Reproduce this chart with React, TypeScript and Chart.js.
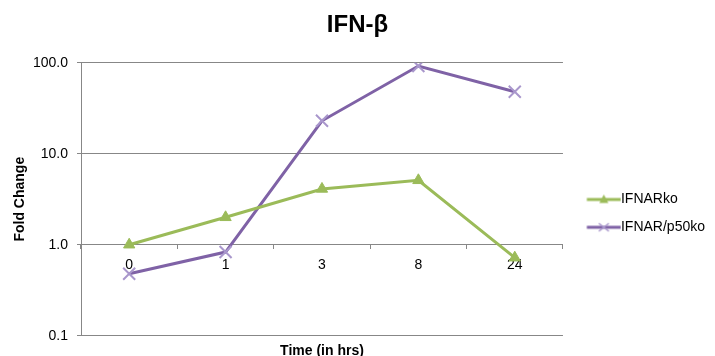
import React, { useEffect, useRef } from 'react';
import { Chart, registerables } from 'chart.js';

Chart.register(...registerables);

// ---- Data ----
const categories = ['0', '1', '3', '8', '24'];
const seriesNames = ['IFNARko', 'IFNAR/p50ko'];
const ifnarKo = [1.0, 2.0, 4.1, 5.1, 0.72];
const ifnarP50Ko = [0.48, 0.83, 23, 92, 48];
const yTickValues = [0.1, 1, 10, 100];
const yTickLabels = ['0.1', '1.0', '10.0', '100.0'];
const chartTitle = 'IFN-β';
const xAxisTitle = 'Time (in hrs)';
const yAxisTitle = 'Fold Change';

// ---- Styles ----
const GREEN = '#9BBB59';
const PURPLE = '#7F62A6';
const LAVENDER = '#A997CC';
const GRID = '#878787';
const FONT = "'Liberation Sans', Arial, Helvetica, sans-serif";

function legendImage(kind: 'triangle' | 'cross'): HTMLCanvasElement {
  const c = document.createElement('canvas');
  c.width = 52;
  c.height = 16;
  const ctx = c.getContext('2d')!;
  const cy = 8;
  const cx = 34.5;
  ctx.strokeStyle = kind === 'triangle' ? GREEN : PURPLE;
  ctx.lineWidth = 3;
  ctx.beginPath();
  ctx.moveTo(17.5, cy);
  ctx.lineTo(51.5, cy);
  ctx.stroke();
  if (kind === 'triangle') {
    ctx.fillStyle = GREEN;
    ctx.beginPath();
    ctx.moveTo(cx, cy - 5);
    ctx.lineTo(cx + 4.5, cy + 3.5);
    ctx.lineTo(cx - 4.5, cy + 3.5);
    ctx.closePath();
    ctx.fill();
  } else {
    ctx.strokeStyle = LAVENDER;
    ctx.lineWidth = 1.5;
    ctx.beginPath();
    ctx.moveTo(cx - 5, cy - 4);
    ctx.lineTo(cx + 5, cy + 4);
    ctx.moveTo(cx - 5, cy + 4);
    ctx.lineTo(cx + 5, cy - 4);
    ctx.stroke();
  }
  return c;
}

export default function App() {
  const canvasRef = useRef<HTMLCanvasElement | null>(null);

  useEffect(() => {
    document.body.style.margin = '0';
    const canvas = canvasRef.current;
    if (!canvas) return;
    const images = [legendImage('triangle'), legendImage('cross')];

    const chart = new Chart(canvas, {
      type: 'line',
      data: {
        labels: categories,
        datasets: [
          {
            label: seriesNames[0],
            data: ifnarKo,
            borderColor: GREEN,
            backgroundColor: GREEN,
            borderWidth: 3,
            tension: 0,
            pointStyle: 'triangle',
            pointRadius: 6.5,
            pointBackgroundColor: GREEN,
            pointBorderColor: GREEN,
            pointBorderWidth: 1,
          },
          {
            label: seriesNames[1],
            data: ifnarP50Ko,
            borderColor: PURPLE,
            backgroundColor: PURPLE,
            borderWidth: 3,
            tension: 0,
            pointStyle: 'crossRot',
            pointRadius: 8.5,
            pointBackgroundColor: LAVENDER,
            pointBorderColor: LAVENDER,
            pointBorderWidth: 2,
          },
        ],
      },
      options: {
        animation: false,
        responsive: false,
        devicePixelRatio: 1,
        layout: { padding: 0 },
        plugins: {
          title: {
            display: true,
            text: chartTitle,
            color: '#000',
            font: { family: FONT, size: 24, weight: 'bold', lineHeight: 1.2 },
            padding: { top: 11.2, bottom: 22.7 },
          },
          legend: {
            position: 'right',
            align: 'start',
            labels: {
              usePointStyle: true,
              pointStyleWidth: 37.2,
              padding: 13.8,
              color: '#000',
              font: { family: FONT, size: 14 },
              generateLabels: (ch: any) => {
                const items = (Chart.defaults.plugins.legend.labels as any).generateLabels(ch);
                return items.map((it: any, i: number) => ({ ...it, pointStyle: images[i] }));
              },
            },
            title: {
              display: true,
              text: '',
              font: { size: 10, lineHeight: 1 },
              padding: { top: 168.7, bottom: 0 },
            },
          },
          tooltip: { enabled: false },
        },
        scales: {
          x: {
            type: 'category',
            position: { y: 1 } as any,
            offset: true,
            z: 1,
            grid: {
              offset: true,
              drawOnChartArea: false,
              drawTicks: true,
              tickLength: 4,
              color: GRID,
            },
            border: { color: GRID, width: 1 },
            ticks: {
              color: '#000',
              font: { family: FONT, size: 14 },
              padding: 8,
              maxRotation: 0,
              autoSkip: false,
            },
          },
          x2: {
            type: 'category',
            position: 'bottom',
            offset: true,
            grid: { display: false, drawTicks: false },
            border: { display: false },
            ticks: { display: false },
            title: {
              display: true,
              text: xAxisTitle,
              color: '#000',
              font: { family: FONT, size: 14, weight: 'bold', lineHeight: 1.2 },
              padding: { top: 7.2, bottom: -3.7 },
            },
          },
          y: {
            type: 'logarithmic',
            position: 'left',
            min: 0.1,
            max: 100,
            afterBuildTicks: (s: any) => {
              s.ticks = yTickValues.map((v) => ({ value: v }));
            },
            afterFit: (s: any) => {
              s.width = 81;
            },
            ticks: {
              callback: (_v: any, i: number) => yTickLabels[i],
              color: '#000',
              font: { family: FONT, size: 14 },
              padding: 9,
              autoSkip: false,
            },
            grid: { color: GRID, tickLength: 4, drawTicks: true },
            border: { color: GRID },
            title: {
              display: true,
              text: yAxisTitle,
              color: '#000',
              font: { family: FONT, size: 14, weight: 'bold', lineHeight: 1.2 },
              padding: { top: 11.3, bottom: 0 },
            },
          },
        },
      } as any,
    });

    return () => chart.destroy();
  }, []);

  return (
    <div style={{ width: 715, height: 356 }}>
      <canvas ref={canvasRef} width={715} height={356} style={{ display: 'block' }} />
    </div>
  );
}
